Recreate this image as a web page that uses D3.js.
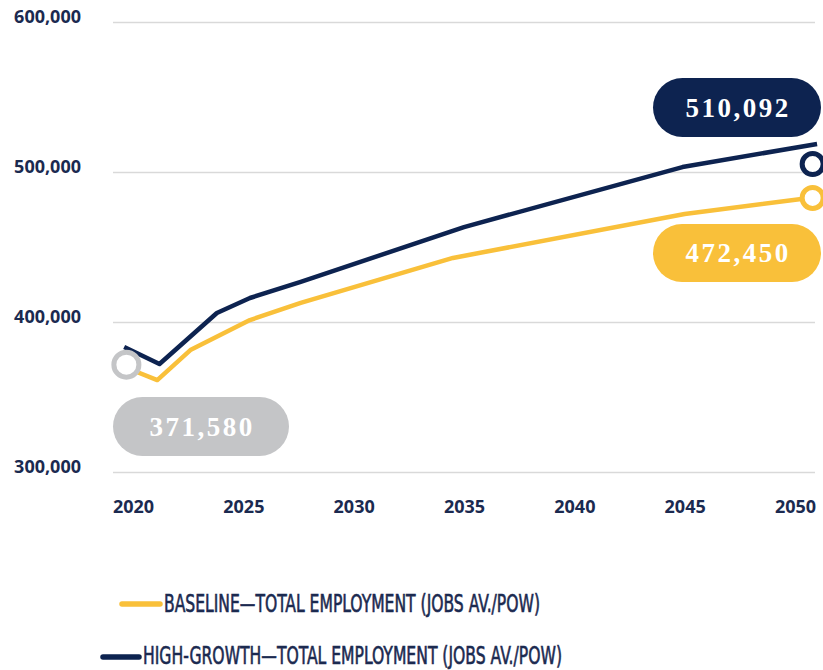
<!DOCTYPE html>
<html>
<head>
<meta charset="utf-8">
<script src="https://cdn.jsdelivr.net/npm/d3@7"></script>
<style>
  body { margin: 0; background: #fff; }
</style>
</head>
<body>
<div id="chart"></div>
<script>
// axis ticks
var yearTicks = [2020, 2025, 2030, 2035, 2040, 2045, 2050];
var valueTicks = [300000, 400000, 500000, 600000];

// series
var baselineYears = [2019.7, 2021.1, 2022.6, 2025.3, 2027.6, 2034.5, 2045, 2051];
var baselineValues = [369500, 361300, 381300, 401300, 412700, 442700, 472000, 483300];
var highYears = [2019.6, 2021.2, 2023.8, 2025.3, 2027.6, 2035, 2044.9, 2051];
var highValues = [383300, 372000, 406000, 416000, 426700, 463300, 503300, 518700];

// callouts
var markerYears = [2019.7, 2050.8, 2050.8];
var markerValues = [371580, 505300, 482700];
var calloutLabels = ["371,580", "510,092", "472,450"];

var legendLabels = ["BASELINE\u2014TOTAL EMPLOYMENT (JOBS AV./POW)", "HIGH-GROWTH\u2014TOTAL EMPLOYMENT (JOBS AV./POW)"];

var navy = "#0d2350";
var gold = "#f9c03a";
var grey = "#c4c5c7";
var textColor = "#1b2a50";

var outterWidth = 823;
var outterHeight = 670;

var svg = d3.select("#chart").append("svg")
  .attr("width", outterWidth)
  .attr("height", outterHeight);

var x = d3.scaleLinear().domain([2020, 2050]).range([133, 795]);
var y = d3.scaleLinear().domain([300000, 600000]).range([472, 22]);

// y grid + labels
var yAxis = svg.append("g")
  .attr("transform", "translate(113,0)")
  .call(d3.axisLeft(y).tickValues(valueTicks).tickSize(-702).tickPadding(32)
    .tickFormat(d3.format(",")));
yAxis.select(".domain").remove();
yAxis.selectAll(".tick line").attr("stroke", "#d9d9d9").attr("stroke-width", 1.5);
yAxis.selectAll(".tick text")
  .attr("dy", "0.05em")
  .attr("fill", textColor)
  .style("font-family", "'Noto Sans', sans-serif")
  .style("font-weight", "700")
  .style("font-size", "18px");

// x labels
var xAxis = svg.append("g")
  .attr("transform", "translate(0,472)")
  .call(d3.axisBottom(x).tickValues(yearTicks).tickSize(0).tickPadding(28)
    .tickFormat(d3.format("d")));
xAxis.select(".domain").remove();
xAxis.selectAll(".tick text")
  .attr("fill", textColor)
  .style("font-family", "'Noto Sans', sans-serif")
  .style("font-weight", "700")
  .style("font-size", "18px");

var line = d3.line()
  .x(function(d) { return x(d[0]); })
  .y(function(d) { return y(d[1]); });

svg.append("path")
  .datum(d3.zip(baselineYears, baselineValues))
  .attr("d", line)
  .attr("fill", "none")
  .attr("stroke", gold)
  .attr("stroke-width", 4.5)
  .attr("stroke-linejoin", "round");

svg.append("path")
  .datum(d3.zip(highYears, highValues))
  .attr("d", line)
  .attr("fill", "none")
  .attr("stroke", navy)
  .attr("stroke-width", 4.5)
  .attr("stroke-linejoin", "round");

// end markers
var markerColors = [grey, navy, gold];
svg.selectAll("circle.marker")
  .data(d3.range(markerYears.length))
  .enter().append("circle")
  .attr("class", "marker")
  .attr("cx", function(i) { return x(markerYears[i]); })
  .attr("cy", function(i) { return y(markerValues[i]); })
  .attr("r", function(i) { return i == 0 ? 12.5 : 10.5; })
  .attr("fill", "#fff")
  .attr("stroke", function(i) { return markerColors[i]; })
  .attr("stroke-width", 5);

// pill callouts
var pills = [
  {x: 113, y: 397, w: 176, h: 59},
  {x: 653, y: 78, w: 168, h: 59},
  {x: 653, y: 224, w: 168, h: 58}
];
var pillG = svg.selectAll("g.pill")
  .data(pills)
  .enter().append("g")
  .attr("class", "pill");

pillG.append("rect")
  .attr("x", function(d) { return d.x; })
  .attr("y", function(d) { return d.y; })
  .attr("width", function(d) { return d.w; })
  .attr("height", function(d) { return d.h; })
  .attr("rx", function(d) { return d.h / 2; })
  .attr("fill", function(d, i) { return markerColors[i]; });

pillG.append("text")
  .attr("x", function(d) { return d.x + d.w / 2 + 1; })
  .attr("y", function(d) { return d.y + d.h / 2 + 9; })
  .attr("text-anchor", "middle")
  .attr("fill", "#fff")
  .style("font-family", "'Liberation Serif', 'DejaVu Serif', serif")
  .style("font-weight", "700")
  .style("font-size", "27px")
  .style("letter-spacing", "2.5px")
  .text(function(d, i) { return calloutLabels[i]; });

// legend
var legendRows = [
  {x1: 122, x2: 160, ly: 604, tx: 164, ty: 612, len: 376, color: gold},
  {x1: 103, x2: 139, ly: 657, tx: 143, ty: 664, len: 419, color: navy}
];
var legend = svg.selectAll("g.legend")
  .data(legendRows)
  .enter().append("g")
  .attr("class", "legend");

legend.append("line")
  .attr("x1", function(d) { return d.x1; })
  .attr("x2", function(d) { return d.x2; })
  .attr("y1", function(d) { return d.ly; })
  .attr("y2", function(d) { return d.ly; })
  .attr("stroke", function(d) { return d.color; })
  .attr("stroke-width", 5.5)
  .attr("stroke-linecap", "round");

legend.append("text")
  .attr("x", function(d) { return d.tx; })
  .attr("y", function(d) { return d.ty; })
  .attr("textLength", function(d) { return d.len; })
  .attr("lengthAdjust", "spacingAndGlyphs")
  .attr("fill", textColor)
  .attr("stroke", textColor)
  .attr("stroke-width", 0.6)
  .style("font-family", "'Liberation Sans Narrow', 'DejaVu Sans Condensed', 'Roboto', sans-serif")
  .style("font-weight", "400")
  .style("font-size", "24px")
  .text(function(d, i) { return legendLabels[i]; });
</script>
</body>
</html>
